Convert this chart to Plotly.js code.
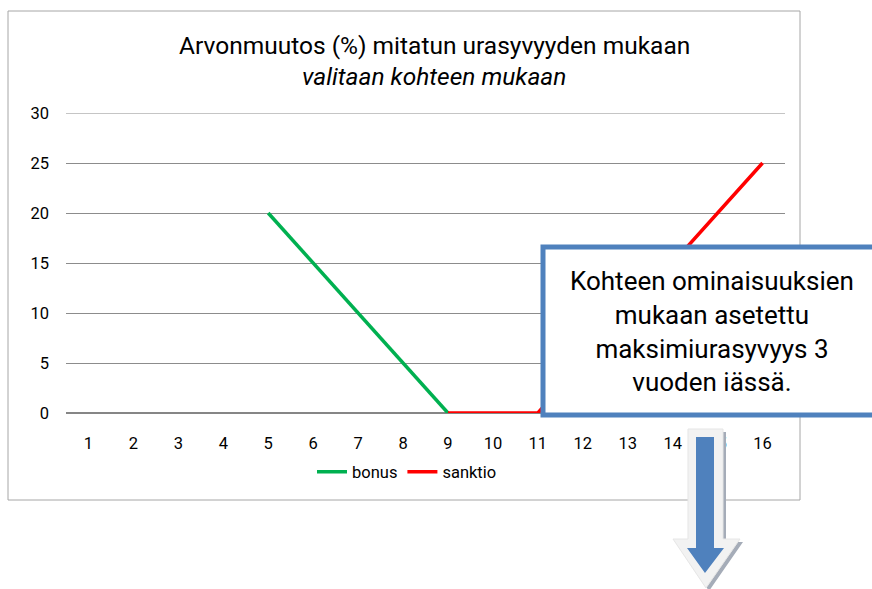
<!DOCTYPE html>
<html><head><meta charset="utf-8">
<script src="https://cdn.plot.ly/plotly-3.0.1.min.js"></script>
<style>html,body{margin:0;padding:0;background:#fff;}</style>
</head><body><div id="chart" style="width:872px;height:589px;"></div>
<script>
const categories = ['1','2','3','4','5','6','7','8','9','10','11','12','13','14','15','16'];
const bonus = [null,null,null,null,20,15,10,5,0,null,null,null,null,null,null,null];
const sanktio = [null,null,null,null,null,null,null,null,0,0,0,5,10,15,20,25];
const yMax = 30;
const titleLine1 = 'Arvonmuutos (%) mitatun urasyvyyden mukaan';
const titleLine2 = 'valitaan kohteen mukaan';
const boxText = 'Kohteen ominaisuuksien<br>mukaan asetettu<br>maksimiurasyvyys 3<br>vuoden iässä.';

const L=66, R=785, T=113, B=413, W=872, H=589;
const X = px => (px-L)/(R-L);
const Y = py => (B-py)/(B-T);
function path(pts){ return 'M' + pts.map(p => X(p[0]).toFixed(5)+','+Y(p[1]).toFixed(5)).join(' L') + ' Z'; }
function arrow(sx0,sx1,top,hy,hx0,hx1,tx,ty,dx,dy){
  dx=dx||0; dy=dy||0;
  return path([[sx0+dx,top+dy],[sx1+dx,top+dy],[sx1+dx,hy+dy],[hx1+dx,hy+dy],[tx+dx,ty+dy],[hx0+dx,hy+dy],[sx0+dx,hy+dy]]);
}
const font = 'Roboto, "Liberation Sans", sans-serif';

const traces = [
  {x: categories, y: bonus, name: 'bonus', type: 'scatter', mode: 'lines', line: {color: '#00b050', width: 3.5}},
  {x: categories, y: sanktio, name: 'sanktio', type: 'scatter', mode: 'lines', line: {color: '#ff0000', width: 3.5}}
];

const layout = {
  width: W, height: H,
  margin: {l: L, r: W-R, t: T, b: H-B},
  paper_bgcolor: '#ffffff', plot_bgcolor: '#ffffff',
  showlegend: true,
  legend: {orientation: 'h', x: X(407), xanchor: 'center', y: Y(472), yanchor: 'middle',
           font: {family: font, size: 16.5, color: '#000'}, bgcolor: 'rgba(0,0,0,0)', itemwidth: 30, tracegroupgap: 0},
  xaxis: {type: 'category', range: [-0.5, 15.5], showgrid: false, zeroline: false, showline: false,
          ticks: '', tickfont: {family: font, size: 16.5, color: '#000'}, ticklabelstandoff: 18, fixedrange: true},
  yaxis: {range: [0, yMax], dtick: 5, tick0: 0, showgrid: true, gridcolor: '#8c8c8c', gridwidth: 1,
          zeroline: false, showline: false, ticks: '', tickfont: {family: font, size: 16.5, color: '#000'},
          ticklabelstandoff: 16, fixedrange: true},
  annotations: [
    {text: titleLine1, xref: 'paper', yref: 'paper', x: X(434), y: Y(45), xanchor: 'center', yanchor: 'middle',
     showarrow: false, font: {family: font, size: 24.5, color: '#000'}},
    {text: '<i>' + titleLine2 + '</i>', xref: 'paper', yref: 'paper', x: X(434), y: Y(76), xanchor: 'center', yanchor: 'middle',
     showarrow: false, font: {family: font, size: 24.5, color: '#000'}},
    {text: boxText, xref: 'paper', yref: 'paper', x: X(712), y: Y(331), xanchor: 'center', yanchor: 'middle',
     showarrow: false, align: 'center', font: {family: font, size: 26, color: '#000'}}
  ],
  shapes: [
    {type: 'line', xref: 'paper', yref: 'y', x0: 0, x1: 1, y0: yMax, y1: yMax, line: {color: '#8c8c8c', width: 1}, layer: 'below'},
    {type: 'line', xref: 'paper', yref: 'paper', x0: 0, x1: 1, y0: 0, y1: 0, line: {color: '#868686', width: 2}, layer: 'below'},
    {type: 'rect', xref: 'paper', yref: 'paper', x0: X(8), x1: X(800), y0: Y(11), y1: Y(500), line: {color: '#a6a6a6', width: 1}, layer: 'below'},
    {type: 'rect', xref: 'paper', yref: 'paper', x0: X(543), x1: X(900), y0: Y(247), y1: Y(415), fillcolor: '#ffffff', line: {color: '#4f81bd', width: 5}},
    {type: 'path', xref: 'paper', yref: 'paper', path: arrow(688,723,429,539,673,740,706,588,3,3), fillcolor: '#a5acb8', line: {width: 0}},
    {type: 'path', xref: 'paper', yref: 'paper', path: arrow(688,723,429,539,673,740,706,588), fillcolor: '#f2f2f2', line: {color: '#e6e6e6', width: 1}},
    {type: 'path', xref: 'paper', yref: 'paper', path: arrow(696,714,437,548,687,724,705,573), fillcolor: '#4f81bd', line: {width: 0}}
  ]
};

Plotly.newPlot('chart', traces, layout, {staticPlot: true, displayModeBar: false});
</script></body></html>
